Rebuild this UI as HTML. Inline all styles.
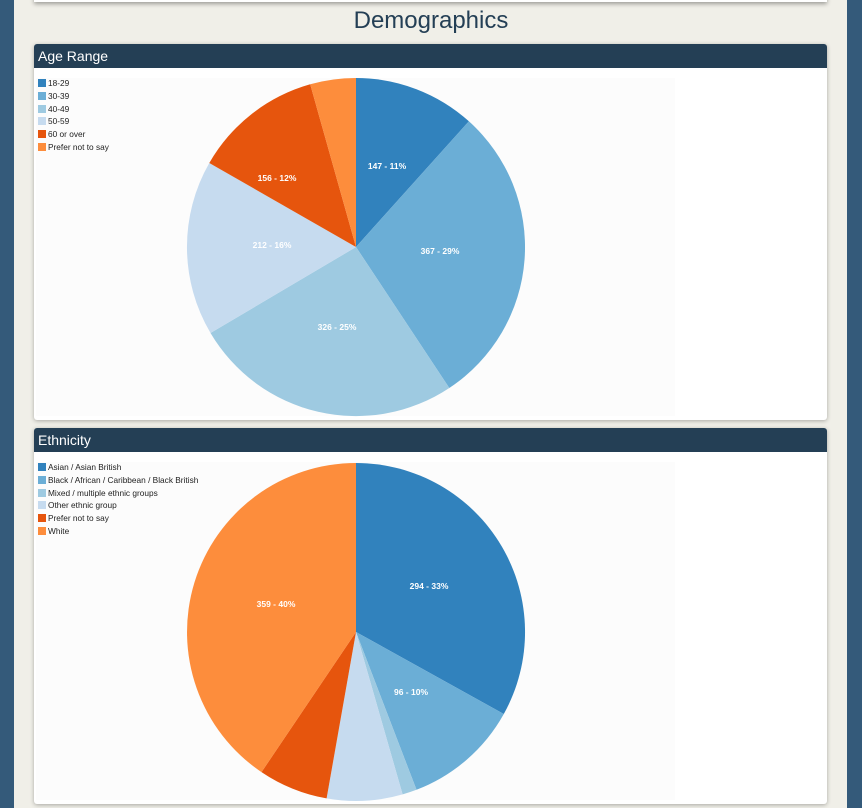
<!DOCTYPE html>
<html><head><meta charset="utf-8"><style>
html,body{margin:0;padding:0;width:862px;height:808px;overflow:hidden;background:#345a7a;font-family:"Liberation Sans",sans-serif}
#main{position:absolute;left:14px;top:0;width:833px;height:808px;background:#f0efe8}
#topcard{position:absolute;left:34px;top:-10px;width:793px;height:12px;background:#fff;box-shadow:0 2px 4px rgba(0,0,0,.35)}
h1{position:absolute;left:0;width:862px;top:7px;margin:0;text-align:center;font-weight:normal;font-size:24px;color:#243f55}
.card{position:absolute;left:34px;width:793px;background:#fff;border-radius:3px;box-shadow:0 1px 4px rgba(0,0,0,.3);overflow:hidden}
.hd{height:24px;background:#243f55;color:#fff;font-size:14px;line-height:24px;padding-left:4px}
svg{position:absolute;left:0;top:0}
</style></head><body>
<div id="main"></div>
<div id="topcard"></div>
<h1>Demographics</h1>
<div class="card" style="top:44px;height:376px"><div class="hd">Age Range</div></div>
<div class="card" style="top:428px;height:376px"><div class="hd">Ethnicity</div></div>
<svg width="862" height="808" font-family="Liberation Sans, sans-serif">
<rect x="36" y="78" width="639" height="338" fill="#fcfcfc"/>
<rect x="36" y="462" width="639" height="338" fill="#fcfcfc"/>
<g font-size="8.3" fill="#222">
<rect x="38" y="79" width="8" height="8" fill="#3182bd"/><text x="48" y="86">18-29</text>
<rect x="38" y="92" width="8" height="8" fill="#6baed6"/><text x="48" y="99">30-39</text>
<rect x="38" y="105" width="8" height="8" fill="#9ecae1"/><text x="48" y="112">40-49</text>
<rect x="38" y="117" width="8" height="8" fill="#c6dbef"/><text x="48" y="124">50-59</text>
<rect x="38" y="130" width="8" height="8" fill="#e6550d"/><text x="48" y="137">60 or over</text>
<rect x="38" y="143" width="8" height="8" fill="#fd8d3c"/><text x="48" y="150">Prefer not to say</text>
<rect x="38" y="463" width="8" height="8" fill="#3182bd"/><text x="48" y="470">Asian / Asian British</text>
<rect x="38" y="476" width="8" height="8" fill="#6baed6"/><text x="48" y="483">Black / African / Caribbean / Black British</text>
<rect x="38" y="489" width="8" height="8" fill="#9ecae1"/><text x="48" y="496">Mixed / multiple ethnic groups</text>
<rect x="38" y="501" width="8" height="8" fill="#c6dbef"/><text x="48" y="508">Other ethnic group</text>
<rect x="38" y="514" width="8" height="8" fill="#e6550d"/><text x="48" y="521">Prefer not to say</text>
<rect x="38" y="527" width="8" height="8" fill="#fd8d3c"/><text x="48" y="534">White</text>
</g>
<g>
<path d="M356,247 L356,78 A169,169 0 0 1 468.9,121.3Z" fill="#3182bd"/>
<path d="M356,247 L468.9,121.3 A169,169 0 0 1 449.3,388Z" fill="#6baed6"/>
<path d="M356,247 L449.3,388 A169,169 0 0 1 210.5,333Z" fill="#9ecae1"/>
<path d="M356,247 L210.5,333 A169,169 0 0 1 209.3,163Z" fill="#c6dbef"/>
<path d="M356,247 L209.3,163 A169,169 0 0 1 310.2,84.3Z" fill="#e6550d"/>
<path d="M356,247 L310.2,84.3 A169,169 0 0 1 356,78Z" fill="#fd8d3c"/>
</g>
<g>
<path d="M356,632 L356,463 A169,169 0 0 1 503.8,714Z" fill="#3182bd"/>
<path d="M356,632 L503.8,714 A169,169 0 0 1 416.5,789.8Z" fill="#6baed6"/>
<path d="M356,632 L416.5,789.8 A169,169 0 0 1 402.6,794.4Z" fill="#9ecae1"/>
<path d="M356,632 L402.6,794.4 A169,169 0 0 1 326.6,798.4Z" fill="#c6dbef"/>
<path d="M356,632 L326.6,798.4 A169,169 0 0 1 261.5,772.1Z" fill="#e6550d"/>
<path d="M356,632 L261.5,772.1 A169,169 0 0 1 356,463Z" fill="#fd8d3c"/>
</g>
<g font-size="8.5" fill="#fff" text-anchor="middle" font-weight="600">
<text x="387" y="169">147 - 11%</text>
<text x="440" y="254">367 - 29%</text>
<text x="337" y="330">326 - 25%</text>
<text x="272" y="248">212 - 16%</text>
<text x="277" y="181">156 - 12%</text>
<text x="429" y="589">294 - 33%</text>
<text x="411" y="695">96 - 10%</text>
<text x="276" y="607">359 - 40%</text>
</g>
</svg>
</body></html>
